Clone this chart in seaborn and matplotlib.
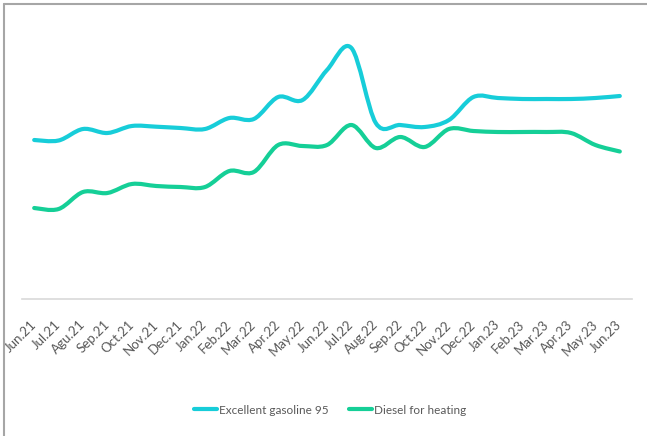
import numpy as np
import pandas as pd
import seaborn as sns
import matplotlib.pyplot as plt
from matplotlib.path import Path
from matplotlib.patches import PathPatch
from matplotlib.lines import Line2D

# Monthly values (no y scale shown, arbitrary units)
months = ["Jun.21", "Jul.21", "Agu.21", "Sep.21", "Oct.21", "Nov.21", "Dec.21",
          "Jan.22", "Feb.22", "Mar.22", "Apr.22", "May.22", "Jun.22", "Jul.22",
          "Aug.22", "Sep.22", "Oct.22", "Nov.22", "Dec.22", "Jan.23", "Feb.23",
          "Mar.23", "Apr.23", "May.23", "Jun.23"]
gasoline = [159, 158.5, 170, 166, 173, 172.3, 171, 170, 181, 180, 202, 199, 229,
            251, 176, 174, 172, 179, 202, 201, 200, 200, 200, 201, 203]
diesel = [91, 90, 107, 106, 115, 113, 112, 112, 128, 127, 154, 153, 154,
          174, 151, 162, 152, 170, 168, 167, 167, 167, 166, 154, 147.5]
series_names = ["Excellent gasoline 95", "Diesel for heating"]
colors = ["#17CDD9", "#15CF97"]


# Excel-style smoothed line: Catmull-Rom segments as cubic Bezier curves
def smooth_path(x, y):
    pts = np.column_stack([x, y]).astype(float)
    ext = np.vstack([pts[0], pts, pts[-1]])
    verts = [pts[0]]
    codes = [Path.MOVETO]
    for i in range(1, len(ext) - 2):
        p0, p1, p2, p3 = ext[i - 1], ext[i], ext[i + 1], ext[i + 2]
        verts += [p1 + (p2 - p0) / 6, p2 - (p3 - p1) / 6, p2]
        codes += [Path.CURVE4] * 3
    return Path(verts, codes)


sns.set_theme(style="white")
plt.rcParams['font.family'] = ['Lato', 'DejaVu Sans']

df = pd.DataFrame({
    "pos": list(range(len(months))) * 2,
    "value": gasoline + diesel,
    "series": [series_names[0]] * len(months) + [series_names[1]] * len(months),
})

fig = plt.figure(figsize=(6.47, 4.36), dpi=100)
ax = fig.add_axes([22 / 647, 1 - 299 / 436, 610 / 647, 279 / 436])

sns.lineplot(data=df, x="pos", y="value", hue="series", palette=colors,
             hue_order=series_names, legend=False, ax=ax)

# swap the straight seaborn lines for smoothed curves
for line, color in zip(list(ax.lines), colors):
    xd, yd = line.get_data()
    line.set_visible(False)
    ax.add_patch(PathPatch(smooth_path(xd, yd), facecolor="none", edgecolor=color,
                           lw=3, capstyle="round", joinstyle="round"))

ax.set_xlim(-0.5, len(months) - 0.5)
ax.set_ylim(0, 279)
ax.set_xticks(range(len(months)))
ax.set_xticklabels(months, rotation=45, ha="right", va="center",
                   rotation_mode="anchor", fontsize=9.5, color="#595959")
ax.tick_params(axis="x", length=0, pad=17)
ax.set_yticks([])
ax.set_xlabel("")
ax.set_ylabel("")
for side in ["top", "left", "right"]:
    ax.spines[side].set_visible(False)
ax.spines["bottom"].set_color("#d9d9d9")
ax.spines["bottom"].set_linewidth(1.2)

handles = [Line2D([], [], color=c, lw=3) for c in colors]
fig.legend(handles, series_names, loc="center", bbox_to_anchor=(330 / 647, 1 - 410 / 436),
           ncol=2, frameon=False, fontsize=8.5, handlelength=2.0, handletextpad=0.15,
           columnspacing=1.7, labelcolor="#595959")

# frame edge visible only along the top and left of the reference crop
fig.add_artist(Line2D([4 / 647, 1], [1 - 4 / 436, 1 - 4 / 436],
                      transform=fig.transFigure, color="#a6a6a6", lw=1.5))
fig.add_artist(Line2D([4 / 647, 4 / 647], [0, 1 - 4 / 436],
                      transform=fig.transFigure, color="#a6a6a6", lw=1.5))

fig.savefig("out.png", dpi=100)
